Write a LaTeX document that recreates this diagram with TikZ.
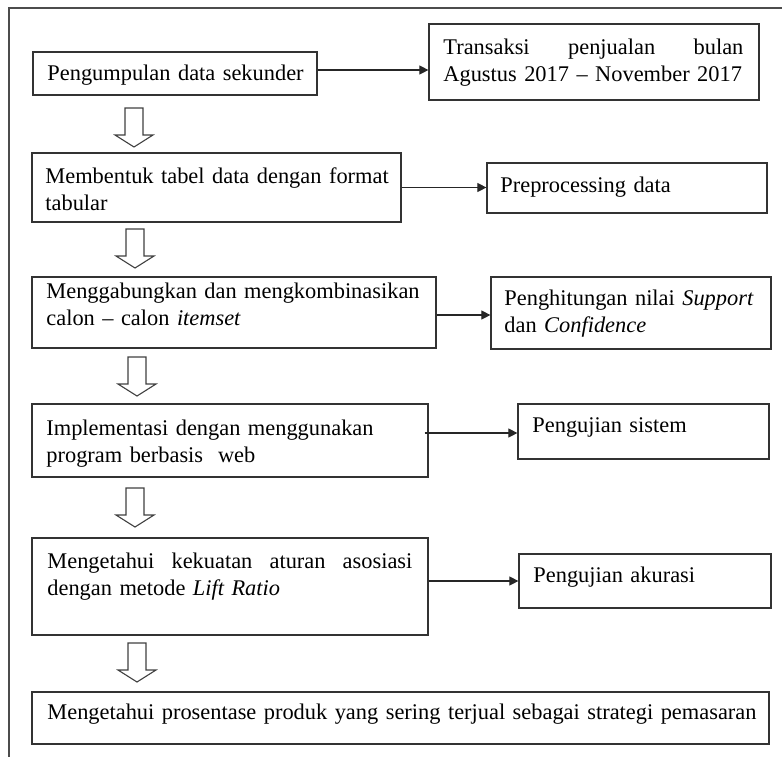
\documentclass[tikz,border=0pt]{standalone}
\usepackage{fontspec}
\setmainfont{Liberation Serif}
\usetikzlibrary{arrows.meta}
\begin{document}
\begin{tikzpicture}[x=0.5pt,y=-0.5pt,
  box/.style={draw=black!80, line width=0.6pt, rectangle, inner sep=0pt},
  txt/.style={anchor=base west, inner sep=0pt, align=left,
              font=\fontsize{11.2}{13.6}\selectfont},
  flow/.style={draw=black!85, line width=0.55pt,
               -{Triangle[length=4.5pt,width=4.5pt]}},
  hollow/.style={draw=black!75, line width=0.55pt, fill=white},
  downarrow/.pic={\draw[hollow] (-9,0) -- (-9,27) -- (-19,27) -- (0,39)
                   -- (19,27) -- (9,27) -- (9,0) -- cycle;}
]
\useasboundingbox (0,0) rectangle (782,756);

% page frame
\begin{scope}
  \clip (0,0) rectangle (782,756);
  \draw[black!70, line width=0.6pt] (9,8) rectangle (800,780);
\end{scope}

% main steps (left column)
\node[box, minimum width=142pt,   minimum height=21.5pt] (b1) at (175,73.5)  {};
\node[box, minimum width=184.5pt, minimum height=34.5pt] (b2) at (216.5,187.5) {};
\node[box, minimum width=202pt,   minimum height=35.5pt] (b3) at (234,312.5) {};
\node[box, minimum width=198pt,   minimum height=36.5pt] (b4) at (230,440.5) {};
\node[box, minimum width=198pt,   minimum height=48.5pt] (b5) at (230,586.5) {};
\node[box, minimum width=368.5pt, minimum height=26pt]   (b6) at (400.5,718) {};

% side results (right column)
\node[box, minimum width=165pt,   minimum height=38pt]   (t1) at (594,62)    {};
\node[box, minimum width=140pt,   minimum height=25pt]   (t2) at (627,188)   {};
\node[box, minimum width=140pt,   minimum height=36pt]   (t3) at (631,313)   {};
\node[box, minimum width=125.5pt, minimum height=27.5pt] (t4) at (643.5,431.5) {};
\node[box, minimum width=126pt,   minimum height=27pt]   (t5) at (645,581)   {};

% texts
\node[txt, text width=140pt] (b1t) at (47,80) {Pengumpulan data sekunder};
\node[txt, text width=175pt] (b2t) at (45,183)
  {Membentuk tabel data dengan format\\tabular};
\node[txt, text width=195pt] (b3t) at (46,298)
  {Menggabungkan dan mengkombinasikan\\calon -- calon \textit{itemset}};
\node[txt, text width=190pt] (b4t) at (46,435)
  {Implementasi dengan menggunakan\\program berbasis\ \ web};
\node[txt, text width=183pt] (b5t) at (47,568)
  {\hbox to 182.5pt{Mengetahui\hfill kekuatan\hfill aturan\hfill asosiasi}\\dengan metode \textit{Lift Ratio}};
\node[txt, text width=360pt] (b6t) at (47,719)
  {Mengetahui prosentase produk yang sering terjual sebagai strategi pemasaran};

\node[txt, text width=151pt] (t1t) at (443,54)
  {\hbox to 150pt{Transaksi\hfill penjualan\hfill bulan}\\Agustus 2017 -- November 2017};
\node[txt, text width=130pt] (t2t) at (500,192) {Preprocessing data};
\node[txt, text width=135pt] (t3t) at (504,305)
  {Penghitungan nilai \textit{Support}\\dan \textit{Confidence}};
\node[txt, text width=115pt] (t4t) at (532,432) {Pengujian sistem};
\node[txt, text width=115pt] (t5t) at (533,582) {Pengujian akurasi};

% side arrows
\draw[flow] ([yshift=1.75pt]b1.east) -- ([yshift=1.75pt]b1.east -| t1.west);
\draw[flow] (b2.east) -- (b2.east -| t2.west);
\draw[flow] ([yshift=-1.25pt]b3.east) -- ([yshift=-1.25pt]b3.east -| t3.west);
\draw[flow] ([xshift=-2pt,yshift=3.75pt]b4.east) -- ([yshift=3.75pt]b4.east -| t4.west);
\draw[flow] ([yshift=2.75pt]b5.east) -- ([yshift=2.75pt]b5.east -| t5.west);

% hollow down arrows between steps
\pic at (134,108) {downarrow};
\pic at (135,229) {downarrow};
\pic at (137,357) {downarrow};
\pic at (135,488) {downarrow};
\pic at (137,643) {downarrow};
\end{tikzpicture}
\end{document}
